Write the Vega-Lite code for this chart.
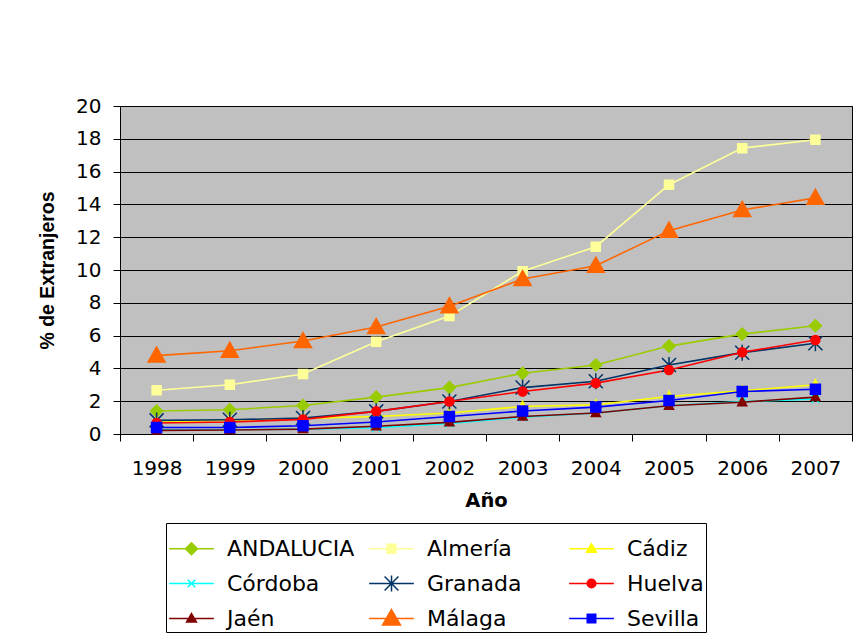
{
  "$schema": "https://vega.github.io/schema/vega-lite/v6.json",
  "width": 732,
  "height": 328,
  "autosize": {"type": "none"},
  "padding": {"left": 120, "top": 106, "right": 4, "bottom": 199},
  "background": "white",
  "data": {
    "values": [
      {"year": "1998", "serie": "ANDALUCIA", "value": 1.40},
      {"year": "1999", "serie": "ANDALUCIA", "value": 1.48},
      {"year": "2000", "serie": "ANDALUCIA", "value": 1.74},
      {"year": "2001", "serie": "ANDALUCIA", "value": 2.25},
      {"year": "2002", "serie": "ANDALUCIA", "value": 2.83},
      {"year": "2003", "serie": "ANDALUCIA", "value": 3.70},
      {"year": "2004", "serie": "ANDALUCIA", "value": 4.21},
      {"year": "2005", "serie": "ANDALUCIA", "value": 5.36},
      {"year": "2006", "serie": "ANDALUCIA", "value": 6.09},
      {"year": "2007", "serie": "ANDALUCIA", "value": 6.60},
      {"year": "1998", "serie": "Almería", "value": 2.67},
      {"year": "1999", "serie": "Almería", "value": 3.00},
      {"year": "2000", "serie": "Almería", "value": 3.66},
      {"year": "2001", "serie": "Almería", "value": 5.63},
      {"year": "2002", "serie": "Almería", "value": 7.19},
      {"year": "2003", "serie": "Almería", "value": 9.92},
      {"year": "2004", "serie": "Almería", "value": 11.42},
      {"year": "2005", "serie": "Almería", "value": 15.20},
      {"year": "2006", "serie": "Almería", "value": 17.43},
      {"year": "2007", "serie": "Almería", "value": 17.94},
      {"year": "1998", "serie": "Cádiz", "value": 0.73},
      {"year": "1999", "serie": "Cádiz", "value": 0.83},
      {"year": "2000", "serie": "Cádiz", "value": 0.95},
      {"year": "2001", "serie": "Cádiz", "value": 1.07},
      {"year": "2002", "serie": "Cádiz", "value": 1.28},
      {"year": "2003", "serie": "Cádiz", "value": 1.68},
      {"year": "2004", "serie": "Cádiz", "value": 1.78},
      {"year": "2005", "serie": "Cádiz", "value": 2.29},
      {"year": "2006", "serie": "Cádiz", "value": 2.63},
      {"year": "2007", "serie": "Cádiz", "value": 3.00},
      {"year": "1998", "serie": "Córdoba", "value": 0.26},
      {"year": "1999", "serie": "Córdoba", "value": 0.26},
      {"year": "2000", "serie": "Córdoba", "value": 0.30},
      {"year": "2001", "serie": "Córdoba", "value": 0.38},
      {"year": "2002", "serie": "Córdoba", "value": 0.65},
      {"year": "2003", "serie": "Córdoba", "value": 1.03},
      {"year": "2004", "serie": "Córdoba", "value": 1.28},
      {"year": "2005", "serie": "Córdoba", "value": 1.72},
      {"year": "2006", "serie": "Córdoba", "value": 1.98},
      {"year": "2007", "serie": "Córdoba", "value": 2.13},
      {"year": "1998", "serie": "Granada", "value": 0.83},
      {"year": "1999", "serie": "Granada", "value": 0.87},
      {"year": "2000", "serie": "Granada", "value": 0.97},
      {"year": "2001", "serie": "Granada", "value": 1.38},
      {"year": "2002", "serie": "Granada", "value": 1.98},
      {"year": "2003", "serie": "Granada", "value": 2.83},
      {"year": "2004", "serie": "Granada", "value": 3.22},
      {"year": "2005", "serie": "Granada", "value": 4.21},
      {"year": "2006", "serie": "Granada", "value": 4.96},
      {"year": "2007", "serie": "Granada", "value": 5.53},
      {"year": "1998", "serie": "Huelva", "value": 0.67},
      {"year": "1999", "serie": "Huelva", "value": 0.73},
      {"year": "2000", "serie": "Huelva", "value": 0.89},
      {"year": "2001", "serie": "Huelva", "value": 1.38},
      {"year": "2002", "serie": "Huelva", "value": 1.98},
      {"year": "2003", "serie": "Huelva", "value": 2.59},
      {"year": "2004", "serie": "Huelva", "value": 3.10},
      {"year": "2005", "serie": "Huelva", "value": 3.90},
      {"year": "2006", "serie": "Huelva", "value": 4.98},
      {"year": "2007", "serie": "Huelva", "value": 5.73},
      {"year": "1998", "serie": "Jaén", "value": 0.22},
      {"year": "1999", "serie": "Jaén", "value": 0.24},
      {"year": "2000", "serie": "Jaén", "value": 0.30},
      {"year": "2001", "serie": "Jaén", "value": 0.47},
      {"year": "2002", "serie": "Jaén", "value": 0.71},
      {"year": "2003", "serie": "Jaén", "value": 1.07},
      {"year": "2004", "serie": "Jaén", "value": 1.28},
      {"year": "2005", "serie": "Jaén", "value": 1.72},
      {"year": "2006", "serie": "Jaén", "value": 1.94},
      {"year": "2007", "serie": "Jaén", "value": 2.25},
      {"year": "1998", "serie": "Málaga", "value": 4.78},
      {"year": "1999", "serie": "Málaga", "value": 5.08},
      {"year": "2000", "serie": "Málaga", "value": 5.67},
      {"year": "2001", "serie": "Málaga", "value": 6.52},
      {"year": "2002", "serie": "Málaga", "value": 7.79},
      {"year": "2003", "serie": "Málaga", "value": 9.45},
      {"year": "2004", "serie": "Málaga", "value": 10.26},
      {"year": "2005", "serie": "Málaga", "value": 12.40},
      {"year": "2006", "serie": "Málaga", "value": 13.66},
      {"year": "2007", "serie": "Málaga", "value": 14.40},
      {"year": "1998", "serie": "Sevilla", "value": 0.40},
      {"year": "1999", "serie": "Sevilla", "value": 0.40},
      {"year": "2000", "serie": "Sevilla", "value": 0.50},
      {"year": "2001", "serie": "Sevilla", "value": 0.73},
      {"year": "2002", "serie": "Sevilla", "value": 1.07},
      {"year": "2003", "serie": "Sevilla", "value": 1.40},
      {"year": "2004", "serie": "Sevilla", "value": 1.64},
      {"year": "2005", "serie": "Sevilla", "value": 2.04},
      {"year": "2006", "serie": "Sevilla", "value": 2.59},
      {"year": "2007", "serie": "Sevilla", "value": 2.73}
    ]
  },
  "encoding": {
    "x": {
      "field": "year",
      "type": "ordinal",
      "scale": {"type": "band", "paddingInner": 0, "paddingOuter": 0},
      "axis": {
        "title": "Año",
        "labelAngle": 0,
        "tickBand": "extent",
        "tickSize": 7,
        "tickColor": "black",
        "domainColor": "black",
        "labelFont": "DejaVu Sans",
        "labelFontSize": 20,
        "labelColor": "black",
        "labelPadding": 17,
        "titleFont": "DejaVu Sans",
        "titleFontSize": 19.5,
        "titleFontWeight": "bold",
        "titleColor": "black",
        "titlePadding": 13,
        "grid": false
      }
    },
    "y": {
      "field": "value",
      "type": "quantitative",
      "scale": {"domain": [0, 20], "nice": false},
      "axis": {
        "title": "% de Extranjeros",
        "values": [0, 2, 4, 6, 8, 10, 12, 14, 16, 18, 20],
        "grid": true,
        "gridColor": "black",
        "gridWidth": 1,
        "gridOpacity": 1,
        "tickSize": 7,
        "tickColor": "black",
        "domainColor": "black",
        "labelFont": "DejaVu Sans",
        "labelFontSize": 20,
        "labelColor": "black",
        "labelPadding": 12,
        "titleFont": "Liberation Sans",
        "titleFontSize": 19.5,
        "titleFontWeight": "bold",
        "titleColor": "black",
        "titlePadding": 18
      }
    }
  },
  "layer": [
    {
      "mark": {"type": "line", "strokeWidth": 1.6},
      "encoding": {
        "color": {
          "field": "serie",
          "type": "nominal",
          "scale": {
            "domain": ["ANDALUCIA", "Almería", "Cádiz", "Córdoba", "Granada", "Huelva", "Jaén", "Málaga", "Sevilla"],
            "range": ["#99CC00", "#FFFF99", "#FFFF00", "#00FFFF", "#003366", "#FF0000", "#800000", "#FF6600", "#0000FF"]
          },
          "legend": null
        }
      }
    },
    {
      "mark": {"type": "point", "filled": true, "opacity": 1, "size": 100, "strokeWidth": 1.5},
      "encoding": {
        "color": {
          "field": "serie",
          "type": "nominal",
          "scale": {
            "domain": ["ANDALUCIA", "Almería", "Cádiz", "Córdoba", "Granada", "Huelva", "Jaén", "Málaga", "Sevilla"],
            "range": ["#99CC00", "#FFFF99", "#FFFF00", "#00FFFF", "#003366", "#FF0000", "#800000", "#FF6600", "#0000FF"]
          },
          "legend": null
        },
        "shape": {
          "field": "serie",
          "scale": {
            "domain": ["ANDALUCIA", "Almería", "Cádiz", "Córdoba", "Granada", "Huelva", "Jaén", "Málaga", "Sevilla"],
            "range": [
              "M0,-1.2L1.2,0L0,1.2L-1.2,0Z",
              "M-0.9,-0.9L0.9,-0.9L0.9,0.9L-0.9,0.9Z",
              "M0,-1L0.9,0.7L-0.9,0.7Z",
              "M-0.8,-0.8L0.8,0.8M-0.8,0.8L0.8,-0.8",
              "M-1.4,-1.4L1.4,1.4M-1.4,1.4L1.4,-1.4M0,-1.6L0,1.6",
              "M-0.9,0A0.9,0.9,0,1,0,0.9,0A0.9,0.9,0,1,0,-0.9,0Z",
              "M0,-1L0.9,0.7L-0.9,0.7Z",
              "M0,-1.7L1.7,1.3L-1.7,1.3Z",
              "M-1,-1L1,-1L1,1L-1,1Z"
            ]
          },
          "legend": null
        },
        "stroke": {
          "field": "serie",
          "scale": {
            "domain": ["ANDALUCIA", "Almería", "Cádiz", "Córdoba", "Granada", "Huelva", "Jaén", "Málaga", "Sevilla"],
            "range": ["#99CC00", "#FFFF99", "#FFFF00", "#00FFFF", "#003366", "#FF0000", "#800000", "#FF6600", "#0000FF"]
          },
          "legend": null
        }
      }
    },
    {
      "transform": [{"filter": "false"}],
      "mark": {"type": "point", "filled": true, "opacity": 1, "strokeWidth": 1.5},
      "encoding": {
        "shape": {
          "field": "serie",
          "scale": {
            "domain": ["ANDALUCIA", "Almería", "Cádiz", "Córdoba", "Granada", "Huelva", "Jaén", "Málaga", "Sevilla"],
            "range": [
              "M-1,0L1,0M0,-0.27L0.27,0L0,0.27L-0.27,0Z",
              "M-1,0L1,0M-0.2,-0.2L0.2,-0.2L0.2,0.2L-0.2,0.2Z",
              "M-1,0L1,0M0,-0.22L0.22,0.16L-0.22,0.16Z",
              "M-1,0L1,0M-0.17,-0.17L0.17,0.17M-0.17,0.17L0.17,-0.17",
              "M-1,0L1,0M-0.31,-0.31L0.31,0.31M-0.31,0.31L0.31,-0.31M0,-0.36L0,0.36",
              "M-1,0L1,0M-0.19,0A0.19,0.19,0,1,0,0.19,0A0.19,0.19,0,1,0,-0.19,0Z",
              "M-1,0L1,0M0,-0.22L0.22,0.16L-0.22,0.16Z",
              "M-1,0L1,0M0,-0.4L0.4,0.29L-0.4,0.29Z",
              "M-1,0L1,0M-0.19,-0.19L0.19,-0.19L0.19,0.19L-0.19,0.19Z"
            ]
          },
          "legend": {"title": null}
        },
        "fill": {
          "field": "serie",
          "scale": {
            "domain": ["ANDALUCIA", "Almería", "Cádiz", "Córdoba", "Granada", "Huelva", "Jaén", "Málaga", "Sevilla"],
            "range": ["#99CC00", "#FFFF99", "#FFFF00", "#00FFFF", "#003366", "#FF0000", "#800000", "#FF6600", "#0000FF"]
          },
          "legend": {"title": null}
        },
        "stroke": {
          "field": "serie",
          "scale": {
            "domain": ["ANDALUCIA", "Almería", "Cádiz", "Córdoba", "Granada", "Huelva", "Jaén", "Málaga", "Sevilla"],
            "range": ["#99CC00", "#FFFF99", "#FFFF00", "#00FFFF", "#003366", "#FF0000", "#800000", "#FF6600", "#0000FF"]
          },
          "legend": {"title": null}
        }
      }
    }
  ],
  "resolve": {"scale": {"shape": "independent", "stroke": "independent", "fill": "independent"}},
  "config": {
    "view": {"fill": "#C0C0C0", "stroke": "black", "strokeWidth": 1},
    "legend": {
      "orient": "none",
      "direction": "horizontal",
      "legendX": 46,
      "legendY": 417,
      "columns": 3,
      "gridAlign": "all",
      "columnPadding": 11,
      "rowPadding": 0,
      "padding": 2,
      "strokeColor": "black",
      "fillColor": "white",
      "labelFont": "DejaVu Sans",
      "labelFontSize": 22,
      "labelColor": "black",
      "labelLimit": 400,
      "labelOffset": 12,
      "symbolSize": 2000,
      "symbolStrokeWidth": 1.5,
      "symbolOpacity": 1
    }
  }
}
